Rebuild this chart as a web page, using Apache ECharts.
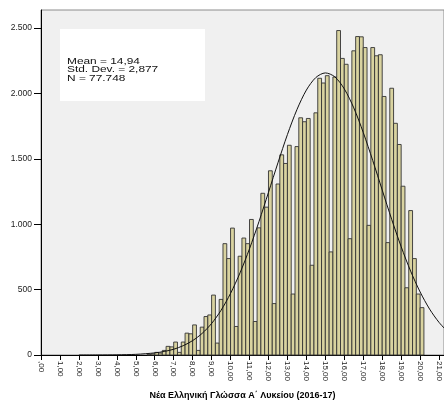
<!DOCTYPE html>
<html>
<head>
<meta charset="utf-8">
<script src="https://cdn.jsdelivr.net/npm/echarts@6/dist/echarts.min.js"></script>
<style>
  html, body { margin: 0; padding: 0; background: #fff; }
  #chart { width: 444px; height: 405px; }
</style>
</head>
<body>
<div id="chart"></div>
<script>
// histogram bins of width 0.2, first bin starts at 5.6
const binStart = 5.6
const binWidth = 0.2
const counts = [
    5, 8, 20, 15, 35, 66, 62, 99, 20, 99,
    167, 162, 230, 35, 213, 294, 306, 458, 91, 425,
    851, 737, 970, 218, 755, 894, 851, 1036, 256, 972,
    1236, 1130, 1408, 393, 1307, 1530, 1464, 1603, 466, 1593,
    1813, 1783, 1808, 686, 1851, 2115, 2079, 2135, 788, 2125,
    2480, 2267, 2222, 889, 2325, 2434, 2432, 2350, 991, 2350,
    2287, 2295, 1976, 859, 2039, 1771, 1609, 1290, 514, 1104,
    737, 466, 362
]

// normal curve
const curveX = [2, 3, 4, 5, 6, 6.5, 7, 7.5, 8, 8.5, 9, 9.5, 10, 10.5, 11, 11.5, 12, 12.5, 13, 13.5,
    14, 14.5, 15, 15.5, 16, 16.5, 17, 17.5, 18, 18.5, 19, 19.5, 20, 20.5, 21, 21.5]
const curveY = [0, 0.3, 1.4, 5, 16, 27, 44, 71, 110, 165, 241, 342, 471, 628, 812, 1020, 1243, 1469, 1685, 1875,
    2025, 2121, 2156, 2126, 2034, 1889, 1701, 1487, 1261, 1037, 828, 641, 482, 351, 249, 171]

const xTicks = [0, 1, 2, 3, 4, 5, 6, 7, 8, 9, 10, 11, 12, 13, 14, 15, 16, 17, 18, 19, 20, 21]
const yTicks = [0, 500, 1000, 1500, 2000, 2500]

const statLines = ['Mean = 14,94', 'Std. Dev. = 2,877', 'N = 77.748']
const axisTitle = 'Νέα Ελληνική Γλώσσα Α΄ Λυκείου (2016-17)'

const font = "'Liberation Sans', Arial, sans-serif"

let bins = counts.map((c, i) => {
    let x0 = Math.round((binStart + i * binWidth) * 10) / 10
    let x1 = Math.round((binStart + (i + 1) * binWidth) * 10) / 10
    return [x0, x1, c]
})

let myChart = echarts.init(document.getElementById('chart'))

let option = {
    animation: false,
    grid: {
        left: 41,
        right: -2,
        top: 10,
        bottom: 48,
        show: true,
        backgroundColor: '#f0f0f0',
        borderColor: '#8c8c8c',
        borderWidth: 1
    },
    xAxis: {
        type: 'value',
        min: 0,
        max: 21.26,
        name: axisTitle,
        nameLocation: 'middle',
        nameGap: 36,
        nameTextStyle: {
            fontFamily: font,
            fontWeight: 'bold',
            fontSize: 9,
            color: '#000'
        },
        axisLine: { lineStyle: { color: '#000', width: 1 } },
        axisTick: {
            length: 5,
            lineStyle: { color: '#000' },
            customValues: xTicks
        },
        axisLabel: {
            rotate: -90,
            margin: 6,
            fontFamily: font,
            fontSize: 8,
            color: '#222',
            customValues: xTicks,
            formatter: v => (v === 0 ? '' : String(v)) + ',00'
        },
        splitLine: { show: false }
    },
    yAxis: {
        type: 'value',
        min: 0,
        max: 2637,
        axisLine: { show: true, lineStyle: { color: '#000', width: 1 } },
        axisTick: {
            show: true,
            length: 7,
            lineStyle: { color: '#000' },
            customValues: yTicks
        },
        axisLabel: {
            margin: 9,
            fontFamily: font,
            fontSize: 8.5,
            color: '#222',
            customValues: yTicks,
            formatter: v => v >= 1000 ? Math.floor(v / 1000) + '.' + String(v % 1000).padStart(3, '0') : String(v)
        },
        splitLine: { show: false }
    },
    graphic: [{
            type: 'rect',
            left: 60,
            top: 29,
            shape: { width: 145, height: 72 },
            style: { fill: '#fff' },
            z: 100
        },
        {
            type: 'text',
            left: 67,
            top: 56,
            scaleX: 1.25,
            style: {
                text: statLines.join('\n'),
                fontFamily: font,
                fontSize: 9.5,
                lineHeight: 8.5,
                fill: '#111'
            },
            z: 101
        }
    ],
    series: [{
            type: 'custom',
            data: bins,
            renderItem: function (params, api) {
                let p0 = api.coord([api.value(0), api.value(2)])
                let p1 = api.coord([api.value(1), 0])
                return {
                    type: 'rect',
                    shape: { x: p0[0], y: p0[1], width: p1[0] - p0[0], height: p1[1] - p0[1] },
                    style: { fill: '#d9d3a0', stroke: '#333', lineWidth: 0.9 }
                }
            },
            z: 2
        },
        {
            type: 'line',
            data: curveX.map((x, i) => [x, curveY[i]]),
            smooth: 0.3,
            symbol: 'none',
            lineStyle: { color: '#111', width: 1 },
            z: 3
        }
    ]
}

myChart.setOption(option)
</script>
</body>
</html>
